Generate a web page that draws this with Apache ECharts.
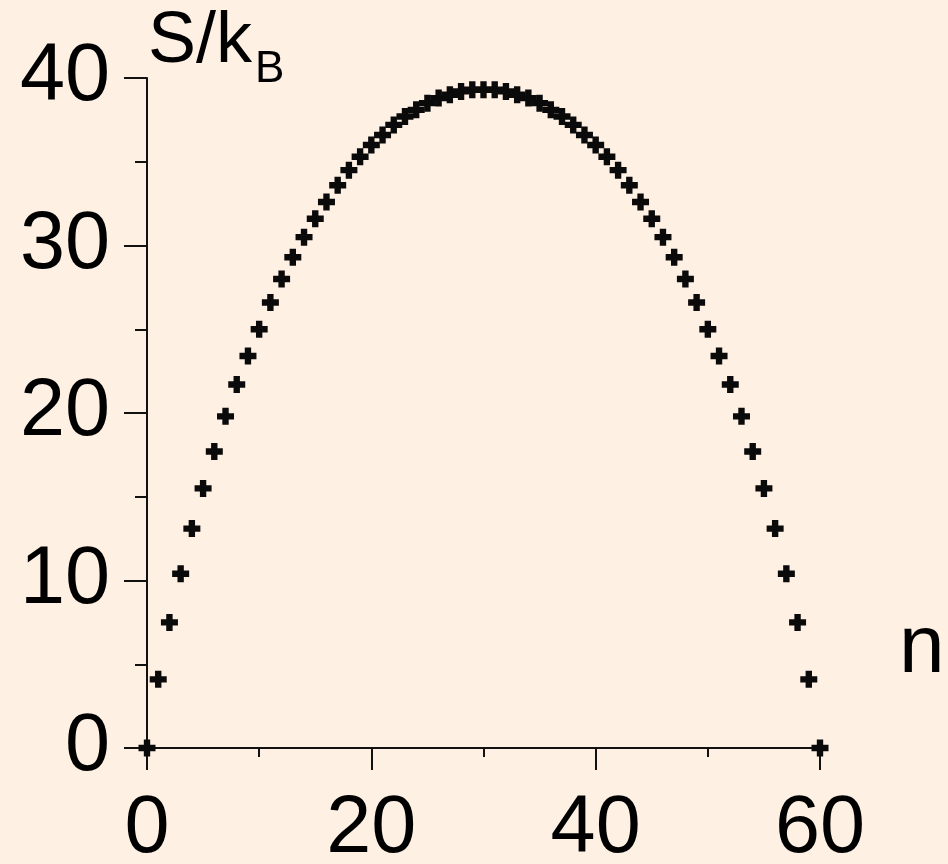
<!DOCTYPE html>
<html>
<head>
<meta charset="utf-8">
<script src="https://cdn.jsdelivr.net/npm/echarts@6/dist/echarts.min.js"></script>
<style>
  html, body { margin: 0; padding: 0; background: #FEF1E4; }
  #main { width: 948px; height: 864px; }
</style>
</head>
<body>
<div id="main"></div>
<script>
// n = 0..60
var nValues = [
  0, 1, 2, 3, 4, 5, 6, 7, 8, 9, 10, 11, 12, 13, 14, 15, 16, 17, 18, 19, 20,
  21, 22, 23, 24, 25, 26, 27, 28, 29, 30, 31, 32, 33, 34, 35, 36, 37, 38, 39, 40,
  41, 42, 43, 44, 45, 46, 47, 48, 49, 50, 51, 52, 53, 54, 55, 56, 57, 58, 59, 60
];
var entropy = [
  0, 4.1, 7.5, 10.4, 13.1, 15.5, 17.7, 19.8, 21.7, 23.4, 25.0,
  26.6, 28.0, 29.3, 30.5, 31.6, 32.6, 33.6, 34.5, 35.3, 36.0,
  36.6, 37.2, 37.7, 38.1, 38.5, 38.8, 39.0, 39.2, 39.3, 39.3,
  39.3, 39.2, 39.0, 38.8, 38.5, 38.1, 37.7, 37.2, 36.6, 36.0,
  35.3, 34.5, 33.6, 32.6, 31.6, 30.5, 29.3, 28.0, 26.6, 25.0,
  23.4, 21.7, 19.8, 17.7, 15.5, 13.1, 10.4, 7.5, 4.1, 0
];
var xTicks = [0, 20, 40, 60];
var yTicks = [0, 10, 20, 30, 40];

var points = nValues.map(function (n, i) { return [n, entropy[i]]; });

var font = 'Liberation Sans, Arial, sans-serif';
var plus = 'path://M5,0H11V5H16V11H11V16H5V11H0V5H5Z';

var myChart = echarts.init(document.getElementById('main'));
var option = {
  backgroundColor: '#FEF1E4',
  animation: false,
  grid: {
    left: 147, right: 128, top: 78, bottom: 116,
    containLabel: false,
    outerBoundsMode: 'none'
  },
  xAxis: {
    type: 'value',
    min: xTicks[0], max: xTicks[xTicks.length - 1], interval: 20,
    splitLine: { show: false },
    axisLine: { show: true, onZero: false, lineStyle: { color: '#111', width: 2 } },
    axisTick: { show: true, inside: false, length: 22, lineStyle: { color: '#111', width: 2 } },
    minorTick: { show: true, splitNumber: 2, length: 9, lineStyle: { color: '#111', width: 2 } },
    axisLabel: { color: '#000', fontSize: 81, fontFamily: font, margin: 41 }
  },
  yAxis: {
    type: 'value',
    min: yTicks[0], max: yTicks[yTicks.length - 1], interval: 10,
    splitLine: { show: false },
    axisLine: { show: true, onZero: false, lineStyle: { color: '#111', width: 2 } },
    axisTick: { show: true, inside: false, length: 23, lineStyle: { color: '#111', width: 2 } },
    minorTick: { show: true, splitNumber: 2, length: 12, lineStyle: { color: '#111', width: 2 } },
    axisLabel: { color: '#000', fontSize: 81, fontFamily: font, margin: 37 }
  },
  graphic: [
    { type: 'text', left: 148, top: 6, style: { text: 'S/k', fontSize: 72, fontFamily: font, fill: '#000' } },
    { type: 'text', left: 255, top: 48, style: { text: 'B', fontSize: 44, fontFamily: font, fill: '#000' } },
    { type: 'text', left: 899, top: 608, style: { text: 'n', fontSize: 82, fontFamily: font, fill: '#000' } }
  ],
  series: [{
    type: 'scatter',
    data: points,
    symbol: plus,
    symbolSize: 17,
    itemStyle: { color: '#0a0a0a', opacity: 1 },
    z: 5
  }]
};
myChart.setOption(option);
</script>
</body>
</html>
